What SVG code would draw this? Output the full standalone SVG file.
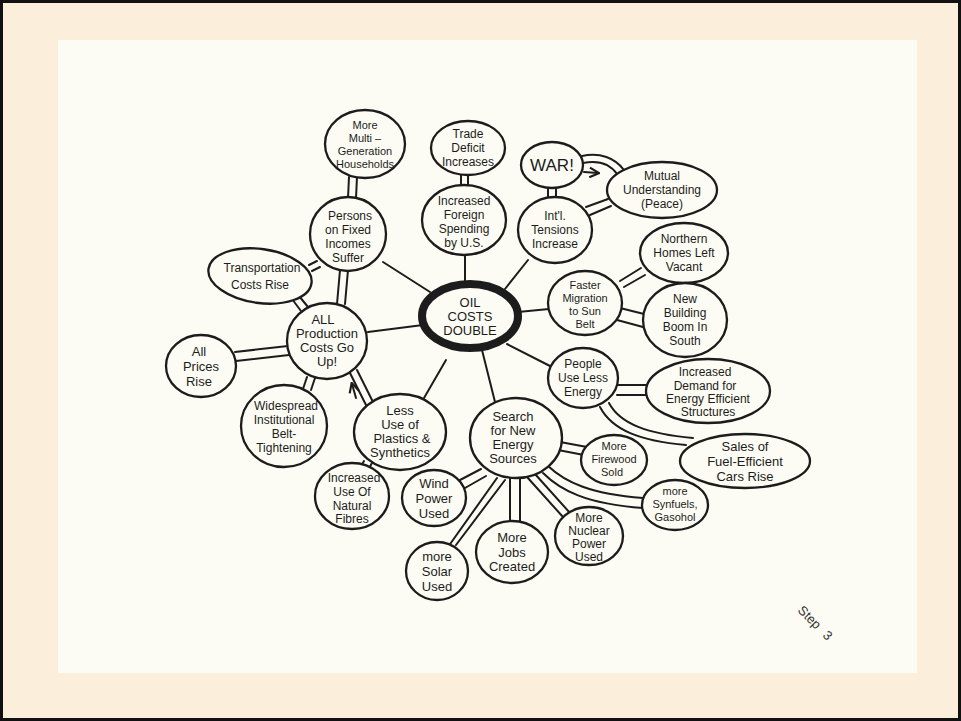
<svg xmlns="http://www.w3.org/2000/svg" width="961" height="721" viewBox="0 0 961 721">
<defs>
<style>
.n ellipse{fill:#fcfcf4;stroke:#1c1c1c;stroke-width:2.3}
.n text{font-family:"Liberation Sans","DejaVu Sans",sans-serif;font-size:12px;fill:#1c1c1c;text-anchor:middle}
.s text{font-size:11px}
.c line,.c path{stroke:#1c1c1c;stroke-width:2;fill:none;stroke-linecap:round}
</style>
<marker id="ah" viewBox="0 0 10 10" refX="8" refY="5" markerWidth="6" markerHeight="6" orient="auto"><path d="M1,1 L9,5 L1,9" fill="none" stroke="#1c1c1c" stroke-width="1.8"/></marker>
</defs>
<rect x="0" y="0" width="961" height="721" fill="#fbeedb"/>
<rect x="1.5" y="1.5" width="958" height="718" fill="none" stroke="#111" stroke-width="3"/>
<rect x="58" y="40" width="859" height="633" fill="#fcfcf4"/>

<g class="c" id="connectors">
<line x1="383" y1="262" x2="430" y2="292"/>
<line x1="465" y1="255" x2="465" y2="284"/>
<line x1="528" y1="260" x2="505" y2="289"/>
<line x1="518" y1="312" x2="549" y2="309"/>
<line x1="507" y1="344" x2="550" y2="366"/>
<line x1="482" y1="350" x2="495" y2="402"/>
<line x1="446" y1="360" x2="424" y2="398"/>
<line x1="368" y1="332" x2="423" y2="325"/>
<line x1="349" y1="177" x2="348" y2="198"/><line x1="357" y1="177" x2="356" y2="198"/>
<line x1="461" y1="174" x2="461" y2="186"/><line x1="468" y1="174" x2="468" y2="186"/>
<line x1="309" y1="265" x2="317" y2="261"/><line x1="312" y1="271" x2="320" y2="267"/>
<line x1="340" y1="270" x2="337" y2="304"/><line x1="348" y1="270" x2="345" y2="304"/>
<line x1="292" y1="299" x2="301" y2="311"/><line x1="299" y1="296" x2="308" y2="307"/>
<line x1="235" y1="352" x2="288" y2="346"/><line x1="236" y1="361" x2="289" y2="355"/>
<line x1="307" y1="377" x2="303" y2="389"/><line x1="315" y1="378" x2="311" y2="390"/>
<line x1="350" y1="373" x2="366" y2="405"/><line x1="357" y1="370" x2="373" y2="402"/>
<line x1="356" y1="398" x2="352" y2="384" marker-end="url(#ah)"/>
<line x1="364" y1="461" x2="360" y2="468"/><line x1="372" y1="463" x2="368" y2="470"/>
<line x1="548" y1="187" x2="548" y2="199"/><line x1="556" y1="187" x2="556" y2="199"/>
<path d="M582,156 C600,152 615,158 624,170"/>
<path d="M583,163 C598,160 610,164 617,174"/>
<line x1="584" y1="172" x2="598" y2="173" marker-end="url(#ah)"/>
<line x1="586" y1="207" x2="608" y2="199"/><line x1="590" y1="215" x2="611" y2="206"/>
<line x1="620" y1="281" x2="641" y2="268"/><line x1="624" y1="287" x2="645" y2="275"/>
<line x1="620" y1="308" x2="644" y2="314"/><line x1="617" y1="320" x2="643" y2="327"/>
<line x1="617" y1="385" x2="647" y2="385"/><line x1="617" y1="395" x2="646" y2="395"/>
<path d="M600,407 C612,430 640,441 686,445"/>
<path d="M609,403 C620,424 648,434 693,438"/>
<line x1="560" y1="442" x2="587" y2="447"/><line x1="558" y1="450" x2="584" y2="455"/>
<path d="M548,466 C565,482 590,494 643,498"/>
<path d="M543,473 C560,490 586,504 643,508"/>
<line x1="527" y1="477" x2="563" y2="517"/><line x1="535" y1="474" x2="570" y2="513"/>
<line x1="510" y1="478" x2="510" y2="521"/><line x1="520" y1="478" x2="520" y2="521"/>
<line x1="497" y1="478" x2="448" y2="547"/><line x1="505" y1="480" x2="456" y2="545"/>
<line x1="460" y1="480" x2="481" y2="469"/><line x1="465" y1="488" x2="486" y2="476"/>
</g>

<g class="n" id="oil">
<ellipse cx="470" cy="316" rx="48" ry="32" style="stroke-width:8"/>
<text style="font-size:13px"><tspan x="470" y="307">OIL</tspan><tspan x="470" y="321">COSTS</tspan><tspan x="470" y="335">DOUBLE</tspan></text>
</g>
<g class="n s" id="multigen">
<ellipse cx="365" cy="144" rx="40" ry="34"/>
<text><tspan x="365" y="129">More</tspan><tspan x="365" y="142">Multi –</tspan><tspan x="365" y="155">Generation</tspan><tspan x="365" y="168">Households</tspan></text>
</g>
<g class="n" id="trade">
<ellipse cx="468" cy="148" rx="37" ry="27"/>
<text><tspan x="468" y="138">Trade</tspan><tspan x="468" y="152">Deficit</tspan><tspan x="468" y="166">Increases</tspan></text>
</g>
<g class="n" id="persons">
<ellipse cx="348" cy="234" rx="38" ry="37"/>
<text><tspan x="350" y="220">Persons</tspan><tspan x="348" y="234">on Fixed</tspan><tspan x="348" y="248">Incomes</tspan><tspan x="348" y="262">Suffer</tspan></text>
</g>
<g class="n" id="foreign">
<ellipse cx="464" cy="220" rx="42" ry="35"/>
<text><tspan x="464" y="205">Increased</tspan><tspan x="464" y="219">Foreign</tspan><tspan x="464" y="233">Spending</tspan><tspan x="464" y="247">by U.S.</tspan></text>
</g>
<g class="n" id="transport">
<ellipse cx="260" cy="276" rx="52" ry="27" transform="rotate(8 260 276)"/>
<text><tspan x="262" y="272">Transportation</tspan><tspan x="260" y="289">Costs Rise</tspan></text>
</g>
<g class="n" id="war">
<ellipse cx="552" cy="165" rx="31" ry="23"/>
<text style="font-size:17px"><tspan x="552" y="171">WAR!</tspan></text>
</g>
<g class="n" id="mutual">
<ellipse cx="662" cy="190" rx="55" ry="28"/>
<text><tspan x="662" y="180">Mutual</tspan><tspan x="662" y="194">Understanding</tspan><tspan x="662" y="208">(Peace)</tspan></text>
</g>
<g class="n" id="intl">
<ellipse cx="555" cy="230" rx="37" ry="33"/>
<text><tspan x="555" y="220">Int'l.</tspan><tspan x="555" y="234">Tensions</tspan><tspan x="555" y="248">Increase</tspan></text>
</g>
<g class="n" id="northern">
<ellipse cx="684" cy="253" rx="44" ry="30"/>
<text><tspan x="684" y="243">Northern</tspan><tspan x="684" y="257">Homes Left</tspan><tspan x="684" y="271">Vacant</tspan></text>
</g>
<g class="n s" id="faster">
<ellipse cx="585" cy="303" rx="37" ry="32"/>
<text><tspan x="585" y="289">Faster</tspan><tspan x="585" y="302">Migration</tspan><tspan x="585" y="315">to Sun</tspan><tspan x="585" y="328">Belt</tspan></text>
</g>
<g class="n" id="newbuild">
<ellipse cx="685" cy="320" rx="42" ry="37"/>
<text><tspan x="685" y="303">New</tspan><tspan x="685" y="317">Building</tspan><tspan x="685" y="331">Boom In</tspan><tspan x="685" y="345">South</tspan></text>
</g>
<g class="n" id="people">
<ellipse cx="583" cy="378" rx="35" ry="30"/>
<text><tspan x="583" y="368">People</tspan><tspan x="583" y="382">Use Less</tspan><tspan x="583" y="396">Energy</tspan></text>
</g>
<g class="n" id="demand">
<ellipse cx="708" cy="391" rx="62" ry="32"/>
<text><tspan x="705" y="376">Increased</tspan><tspan x="705" y="390">Demand for</tspan><tspan x="708" y="403">Energy Efficient</tspan><tspan x="708" y="416">Structures</tspan></text>
</g>
<g class="n" id="sales">
<ellipse cx="745" cy="461" rx="65" ry="27"/>
<text style="font-size:13px"><tspan x="745" y="451">Sales of</tspan><tspan x="745" y="466">Fuel-Efficient</tspan><tspan x="745" y="481">Cars Rise</tspan></text>
</g>
<g class="n" id="search">
<ellipse cx="516" cy="438" rx="46" ry="40"/>
<text style="font-size:13px"><tspan x="513" y="421">Search</tspan><tspan x="513" y="435">for New</tspan><tspan x="513" y="449">Energy</tspan><tspan x="513" y="463">Sources</tspan></text>
</g>
<g class="n s" id="firewood">
<ellipse cx="614" cy="460" rx="33" ry="25"/>
<text><tspan x="614" y="450">More</tspan><tspan x="614" y="463">Firewood</tspan><tspan x="612" y="476">Sold</tspan></text>
</g>
<g class="n s" id="synfuels">
<ellipse cx="675" cy="505" rx="33" ry="25"/>
<text><tspan x="675" y="495">more</tspan><tspan x="675" y="508">Synfuels,</tspan><tspan x="675" y="521">Gasohol</tspan></text>
</g>
<g class="n" id="nuclear">
<ellipse cx="589" cy="536" rx="34" ry="29"/>
<text><tspan x="589" y="522">More</tspan><tspan x="589" y="535">Nuclear</tspan><tspan x="589" y="548">Power</tspan><tspan x="589" y="561">Used</tspan></text>
</g>
<g class="n" id="jobs">
<ellipse cx="512" cy="552" rx="36" ry="31"/>
<text style="font-size:13px"><tspan x="512" y="542">More</tspan><tspan x="512" y="557">Jobs</tspan><tspan x="512" y="571">Created</tspan></text>
</g>
<g class="n" id="solar">
<ellipse cx="437" cy="571" rx="31" ry="29"/>
<text style="font-size:13px"><tspan x="437" y="561">more</tspan><tspan x="437" y="576">Solar</tspan><tspan x="437" y="591">Used</tspan></text>
</g>
<g class="n" id="wind">
<ellipse cx="434" cy="498" rx="32" ry="28"/>
<text style="font-size:13px"><tspan x="434" y="488">Wind</tspan><tspan x="434" y="503">Power</tspan><tspan x="434" y="518">Used</tspan></text>
</g>
<g class="n" id="fibres">
<ellipse cx="352" cy="496" rx="37" ry="33"/>
<text><tspan x="354" y="482">Increased</tspan><tspan x="352" y="496">Use Of</tspan><tspan x="352" y="510">Natural</tspan><tspan x="352" y="523">Fibres</tspan></text>
</g>
<g class="n" id="plastics">
<ellipse cx="400" cy="432" rx="46" ry="38"/>
<text style="font-size:13px"><tspan x="400" y="415">Less</tspan><tspan x="400" y="429">Use of</tspan><tspan x="402" y="443">Plastics &amp;</tspan><tspan x="400" y="457">Synthetics</tspan></text>
</g>
<g class="n" id="allprod">
<ellipse cx="327" cy="341" rx="40" ry="38"/>
<text style="font-size:13px"><tspan x="323" y="324">ALL</tspan><tspan x="327" y="338">Production</tspan><tspan x="327" y="352">Costs Go</tspan><tspan x="327" y="366">Up!</tspan></text>
</g>
<g class="n" id="prices">
<ellipse cx="201" cy="366" rx="35" ry="31"/>
<text style="font-size:13px"><tspan x="199" y="356">All</tspan><tspan x="201" y="371">Prices</tspan><tspan x="199" y="386">Rise</tspan></text>
</g>
<g class="n" id="belt">
<ellipse cx="284" cy="426" rx="43" ry="41"/>
<text><tspan x="286" y="410">Widespread</tspan><tspan x="284" y="424">Institutional</tspan><tspan x="284" y="438">Belt-</tspan><tspan x="284" y="452">Tightening</tspan></text>
</g>
<text x="797" y="611" transform="rotate(45 797 611)" style="font-family:'Liberation Sans',sans-serif;font-size:13px;fill:#333;word-spacing:5px">Step 3</text>
</svg>
